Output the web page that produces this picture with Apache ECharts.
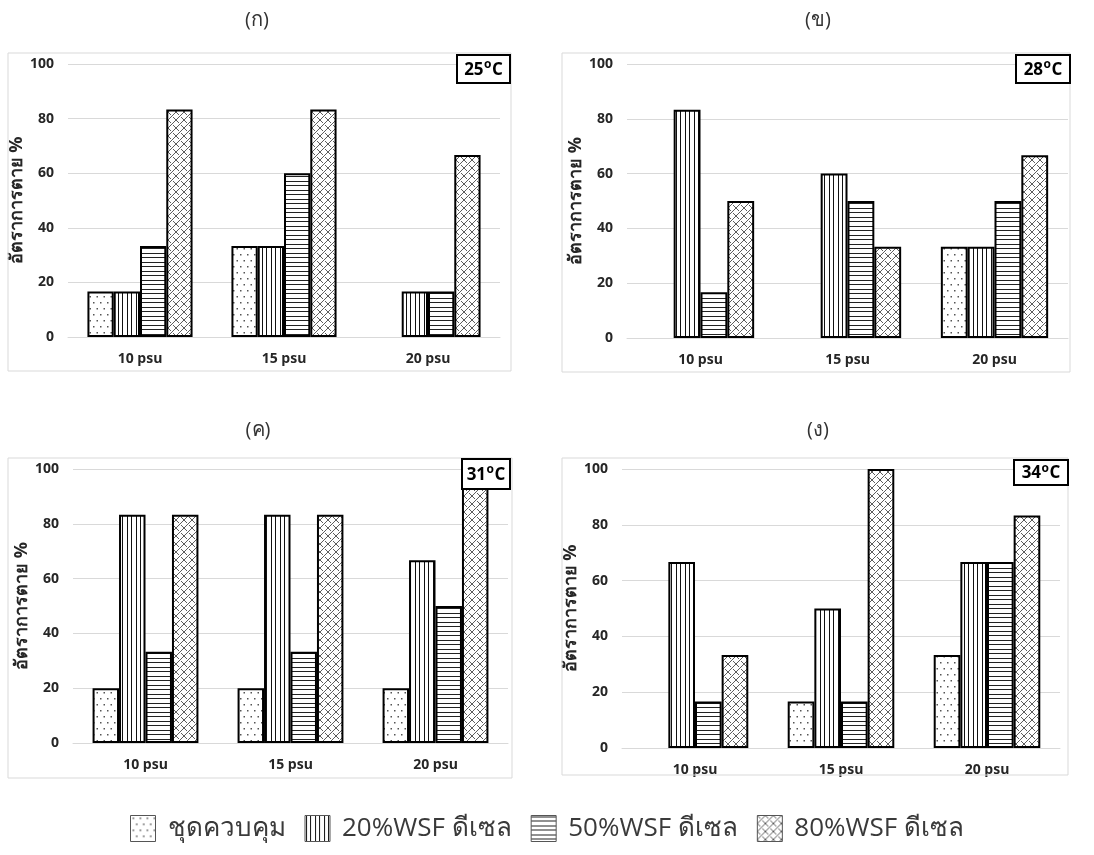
<!DOCTYPE html>
<html><head><meta charset="utf-8">
<script src="https://cdn.jsdelivr.net/npm/echarts@6/dist/echarts.min.js"></script>
<style>html,body{margin:0;padding:0;background:#fff}#c{width:1094px;height:855px}</style>
</head><body><div id="c"></div>
<script>
// ---- data ----
const categories = ['10 psu', '15 psu', '20 psu'];
const seriesNames = ['ชุดควบคุม', '20%WSF ดีเซล', '50%WSF ดีเซล', '80%WSF ดีเซล'];
const yAxisName = 'อัตราการตาย %';
const panelLabels = ['(ก)', '(ข)', '(ค)', '(ง)'];
const temps = ['25', '28', '31', '34'];

const control25 = [16.7, 33.3, 0];
const wsf20_25 = [16.7, 33.3, 16.7];
const wsf50_25 = [33.3, 60, 16.7];
const wsf80_25 = [83.3, 83.3, 66.7];

const control28 = [0, 0, 33.3];
const wsf20_28 = [83.3, 60, 33.3];
const wsf50_28 = [16.7, 50, 50];
const wsf80_28 = [50, 33.3, 66.7];

const control31 = [20, 20, 20];
const wsf20_31 = [83.3, 83.3, 66.7];
const wsf50_31 = [33.3, 33.3, 50];
const wsf80_31 = [83.3, 83.3, 100];

const control34 = [0, 16.7, 33.3];
const wsf20_34 = [66.7, 50, 66.7];
const wsf50_34 = [16.7, 16.7, 66.7];
const wsf80_34 = [33.3, 100, 83.3];

const panelData = [
  [control25, wsf20_25, wsf50_25, wsf80_25],
  [control28, wsf20_28, wsf50_28, wsf80_28],
  [control31, wsf20_31, wsf50_31, wsf80_31],
  [control34, wsf20_34, wsf50_34, wsf80_34]
];

// ---- layout ----
const grids = [
  {left: 68, top: 64, width: 432, height: 273},
  {left: 627, top: 64, width: 441, height: 274},
  {left: 73, top: 469, width: 435, height: 274},
  {left: 622, top: 469, width: 438, height: 279}
];
const frames = [
  [8, 53, 503, 318], [562, 53, 508, 319], [8, 458, 504, 320], [562, 458, 506, 317]
];
const tempBoxes = [
  [457, 55, 53, 28], [1016, 55, 54, 28], [462, 459, 48, 30], [1014, 460, 54, 25]
];
const labelPos = [[257, 20], [818, 20], [258, 430], [818, 430]];

// ---- patterns ----
function mk(w, h, draw) {
  const c = document.createElement('canvas'); c.width = w; c.height = h;
  const g = c.getContext('2d'); g.fillStyle = '#fff'; g.fillRect(0, 0, w, h);
  g.fillStyle = '#000'; g.strokeStyle = '#000'; draw(g); return c;
}
const patDots = mk(14, 12, g => { g.fillStyle = '#555';
  g.fillRect(2, 2, 1.5, 1.5); g.fillRect(9, 2, 1.5, 1.5); g.fillRect(5.5, 8, 1.5, 1.5); g.fillRect(12.5, 8, 1.5, 1.5); });
const patV = mk(9, 4, g => { g.fillStyle = '#111'; g.fillRect(1, 0, 1, 4); g.fillRect(5, 0, 1, 4); });
const patH = mk(4, 9, g => { g.fillStyle = '#222'; g.fillRect(0, 1, 4, 1); g.fillRect(0, 5, 4, 1); });
const patX = mk(8, 8, g => {
  g.strokeStyle = '#333'; g.lineWidth = 0.8; g.beginPath();
  g.moveTo(0, 8); g.lineTo(8, 0); g.moveTo(-2, 2); g.lineTo(2, -2); g.moveTo(6, 10); g.lineTo(10, 6);
  g.moveTo(0, 0); g.lineTo(3, 3); g.moveTo(5, 5); g.lineTo(8, 8);
  g.stroke();
});
const pats = [patDots, patV, patH, patX];

const font = '"Open Sans", "Noto Sans", "DejaVu Sans", sans-serif';

const option = {
  animation: false,
  backgroundColor: '#fff',
  legend: {
    data: seriesNames, top: 810, left: 'center', icon: 'rect',
    itemWidth: 25, itemHeight: 26, itemGap: 19,
    itemStyle: {borderWidth: 1, borderColor: '#555'},
    textStyle: {fontSize: 26, color: '#3a3a3a', fontFamily: font, padding: [0, 0, 0, 7]}
  },
  grid: grids.map(g => Object.assign({containLabel: false}, g)),
  xAxis: grids.map((g, i) => ({
    type: 'category', gridIndex: i, data: categories,
    axisTick: {show: false},
    axisLine: {lineStyle: {color: '#d9d9d9', width: 1}},
    axisLabel: {fontWeight: 'bold', fontSize: 14, color: '#262626', margin: 15, fontFamily: font}
  })),
  yAxis: grids.map((g, i) => ({
    type: 'value', gridIndex: i, min: 0, max: 100, interval: 20,
    name: yAxisName, nameLocation: 'middle', nameGap: 37, nameRotate: 90,
    nameTextStyle: {fontWeight: 'bold', fontSize: 18, color: '#262626', fontFamily: font},
    axisLine: {show: false}, axisTick: {show: false},
    splitLine: {lineStyle: {color: '#d9d9d9', width: 1}},
    axisLabel: {fontWeight: 'bold', fontSize: 14, color: '#262626', margin: 14, fontFamily: font}
  })),
  series: [],
  graphic: []
};

const mctx = document.createElement('canvas').getContext('2d');
function tw(txt, size) { mctx.font = 'bold ' + size + 'px ' + font; return mctx.measureText(txt).width; }

panelData.forEach((arrs, p) => {
  arrs.forEach((vals, s) => {
    option.series.push({
      type: 'bar', name: seriesNames[s], xAxisIndex: p, yAxisIndex: p,
      barGap: '0%', barCategoryGap: '27%',
      itemStyle: {color: {image: pats[s], repeat: 'repeat'}, borderColor: '#000', borderWidth: 2},
      emphasis: {disabled: true},
      data: vals.map(v => v === 0 ? {value: v, itemStyle: {borderWidth: 0}} : v)
    });
  });
  const f = frames[p];
  option.graphic.push({type: 'rect', z: 1, silent: true,
    shape: {x: f[0], y: f[1], width: f[2], height: f[3]},
    style: {fill: 'none', stroke: '#d9d9d9', lineWidth: 1}});
  const b = tempBoxes[p];
  option.graphic.push({type: 'rect', z: 100, silent: true,
    shape: {x: b[0], y: b[1], width: b[2], height: b[3]},
    style: {fill: '#fff', stroke: '#000', lineWidth: 2}});
  // temperature text: number + raised small "o" + C
  const big = 17, small = 12;
  const wN = tw(temps[p], big), wO = tw('o', small), wC = tw('C', big);
  let x0 = b[0] + (b[2] - (wN + wO + wC + 1)) / 2;
  const cy = b[1] + b[3] / 2 + 1;
  const st = {fontWeight: 'bold', fill: '#000', fontFamily: font, verticalAlign: 'middle', align: 'left'};
  option.graphic.push({type: 'text', z: 101, silent: true, x: x0, y: cy,
    style: Object.assign({text: temps[p], fontSize: big}, st)});
  option.graphic.push({type: 'text', z: 101, silent: true, x: x0 + wN + 0.5, y: cy - 5,
    style: Object.assign({text: 'o', fontSize: small}, st)});
  option.graphic.push({type: 'text', z: 101, silent: true, x: x0 + wN + wO + 1, y: cy,
    style: Object.assign({text: 'C', fontSize: big}, st)});
  const l = labelPos[p];
  option.graphic.push({type: 'text', z: 10, silent: true, x: l[0], y: l[1],
    style: {text: panelLabels[p], align: 'center', verticalAlign: 'middle', fontSize: 20, fill: '#333', fontFamily: font}});
});

const chart = echarts.init(document.getElementById('c'), null, {renderer: 'canvas'});
chart.setOption(option);
</script>
</body></html>
